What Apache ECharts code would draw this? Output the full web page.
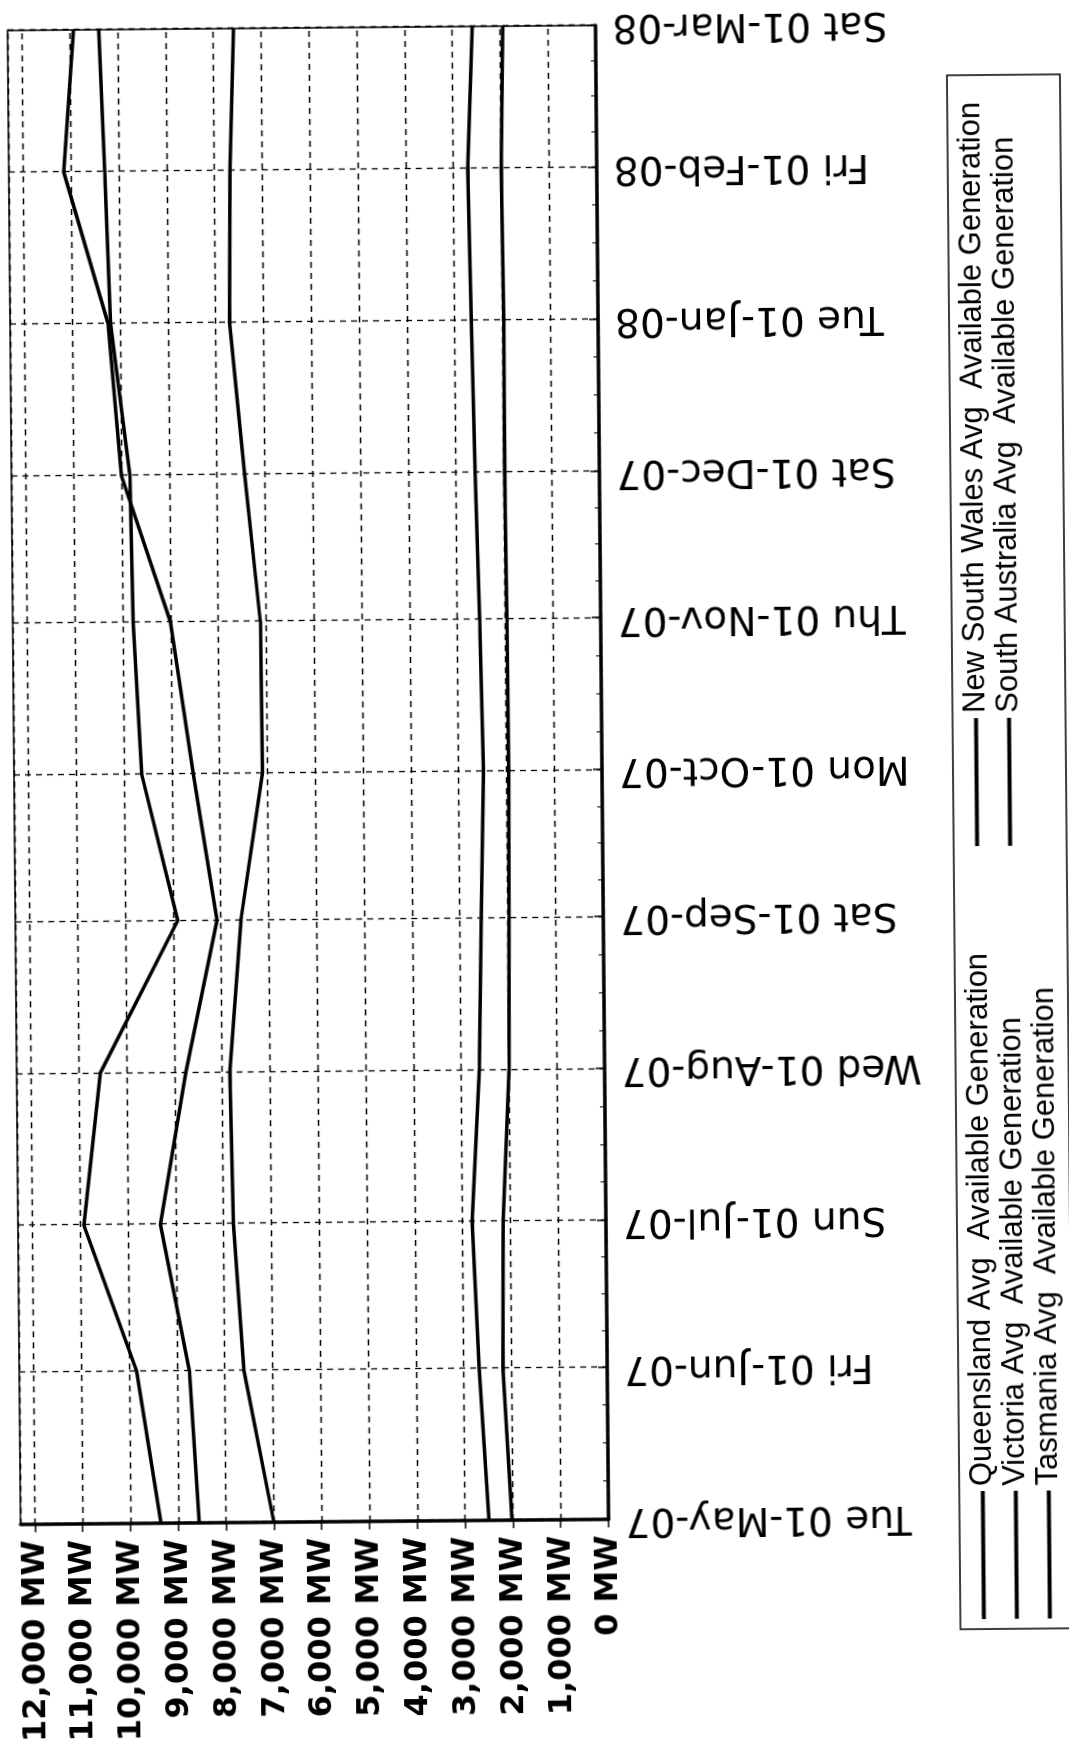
<!DOCTYPE html>
<html>
<head>
<meta charset="utf-8">
<script src="https://cdn.jsdelivr.net/npm/echarts@6/dist/echarts.min.js"></script>
<style>
  body { margin: 0; background: #fff; }
  #page {
    position: absolute; left: 0; top: 0;
    width: 1069px; height: 1747px;
    transform-origin: 300px 775px;
    transform: rotate(-0.5deg);
  }
  /* chart is drawn landscape, then turned on its side like the scanned page */
  #Graph {
    position: absolute; left: 0; top: 0;
    width: 1747px; height: 1069px;
    transform-origin: 0 0;
    transform: translateY(1747px) rotate(-90deg);
  }
</style>
</head>
<body>
<div id="page"><div id="Graph"></div></div>
<script>
  const dates = ['2007-05-01', '2007-06-01', '2007-07-01', '2007-08-01', '2007-09-01', '2007-10-01',
                 '2007-11-01', '2007-12-01', '2008-01-01', '2008-02-01', '2008-03-01'];
  const dateLabels = ['Tue 01-May-07', 'Fri 01-Jun-07', 'Sun 01-Jul-07', 'Wed 01-Aug-07', 'Sat 01-Sep-07',
                      'Mon 01-Oct-07', 'Thu 01-Nov-07', 'Sat 01-Dec-07', 'Tue 01-Jan-08', 'Fri 01-Feb-08',
                      'Sat 01-Mar-08'];

  const queensland = [8560, 8740, 9320, 8760, 8080, 8550, 9000, 10000, 10250, 11150, 10920];
  const newSouthWales = [9360, 9840, 10920, 10550, 8900, 9630, 9780, 9820, 10200, 10290, 10390];
  const victoria = [7000, 7600, 7790, 7840, 7580, 7100, 7120, 7420, 7710, 7670, 7570];
  const southAustralia = [2500, 2680, 2800, 2620, 2550, 2480, 2530, 2600, 2650, 2700, 2580];
  const tasmania = [2020, 2180, 2150, 2000, 1970, 1950, 1960, 1980, 1970, 2000, 1940];

  const seriesNames = ['Queensland Avg  Available Generation', 'New South Wales Avg  Available Generation',
                       'Victoria Avg  Available Generation', 'South Australia Avg  Available Generation',
                       'Tasmania Avg  Available Generation'];
  const seriesValues = [queensland, newSouthWales, victoria, southAustralia, tasmania];

  function toTime(s) {
    let p = s.split('-');
    return new Date(+p[0], +p[1] - 1, +p[2]).getTime();
  }
  const times = dates.map(toTime);

  function dateLabel(value) {
    let i = times.indexOf(value);
    return i >= 0 ? dateLabels[i] : '';
  }

  function mwLabel(value) {
    return String(value).replace(/\B(?=(\d{3})+(?!\d))/g, ',') + ' MW';
  }

  let series = [];
  for (let k = 0; k < seriesNames.length; k++) {
    series.push({
      name: seriesNames[k],
      type: 'line',
      showSymbol: false,
      lineStyle: {color: '#000', width: 3.5},
      itemStyle: {color: '#000'},
      data: times.map((t, i) => [t, seriesValues[k][i]])
    });
  }

  let chart = echarts.init(document.getElementById('Graph'));
  let dash = {color: '#000', width: 1.3, type: [6, 5]};
  let option = {
    animation: false,
    backgroundColor: '#fff',
    grid: {
      left: 225, right: 28, top: 14, bottom: 467,
      show: true, borderColor: '#000', borderWidth: 1.5
    },
    legend: {
      data: seriesNames,
      left: 112, top: 953,
      width: 1550,
      orient: 'horizontal',
      icon: 'rect',
      itemWidth: 128, itemHeight: 4,
      itemGap: 2,
      padding: [8, 0, 8, 10],
      borderColor: '#000', borderWidth: 1.5,
      // fixed text width so the two legend columns line up
      textStyle: {
        fontFamily: 'Liberation Sans, Arial, sans-serif',
        fontSize: 31, color: '#000',
        width: 638, lineHeight: 31, overflow: 'none'
      }
    },
    xAxis: {
      type: 'time',
      min: times[0],
      max: times[times.length - 1],
      splitNumber: 10,
      axisLine: {lineStyle: {color: '#000', width: 3.5}},
      axisTick: {inside: true, length: 9, lineStyle: {color: '#000', width: 1.5}},
      minorTick: {show: true, splitNumber: 4, length: 5, lineStyle: {color: '#000'}},
      splitLine: {show: true, lineStyle: dash},
      axisLabel: {
        rotate: 90, margin: 17,
        fontFamily: 'DejaVu Sans', fontSize: 39, color: '#000',
        showMinLabel: true, showMaxLabel: true,
        hideOverlap: false,
        formatter: dateLabel
      }
    },
    yAxis: {
      type: 'value',
      min: 0, max: 12300, interval: 1000,
      axisLine: {show: true, lineStyle: {color: '#000', width: 3.5}},
      axisTick: {show: true, length: 8, lineStyle: {color: '#000', width: 1.5}},
      splitLine: {show: true, lineStyle: dash},
      axisLabel: {
        margin: 16,
        fontFamily: 'DejaVu Sans', fontWeight: 'bold', fontSize: 32, color: '#000',
        showMaxLabel: false,
        formatter: mwLabel
      }
    },
    series: series
  };
  chart.setOption(option);
</script>
</body>
</html>
